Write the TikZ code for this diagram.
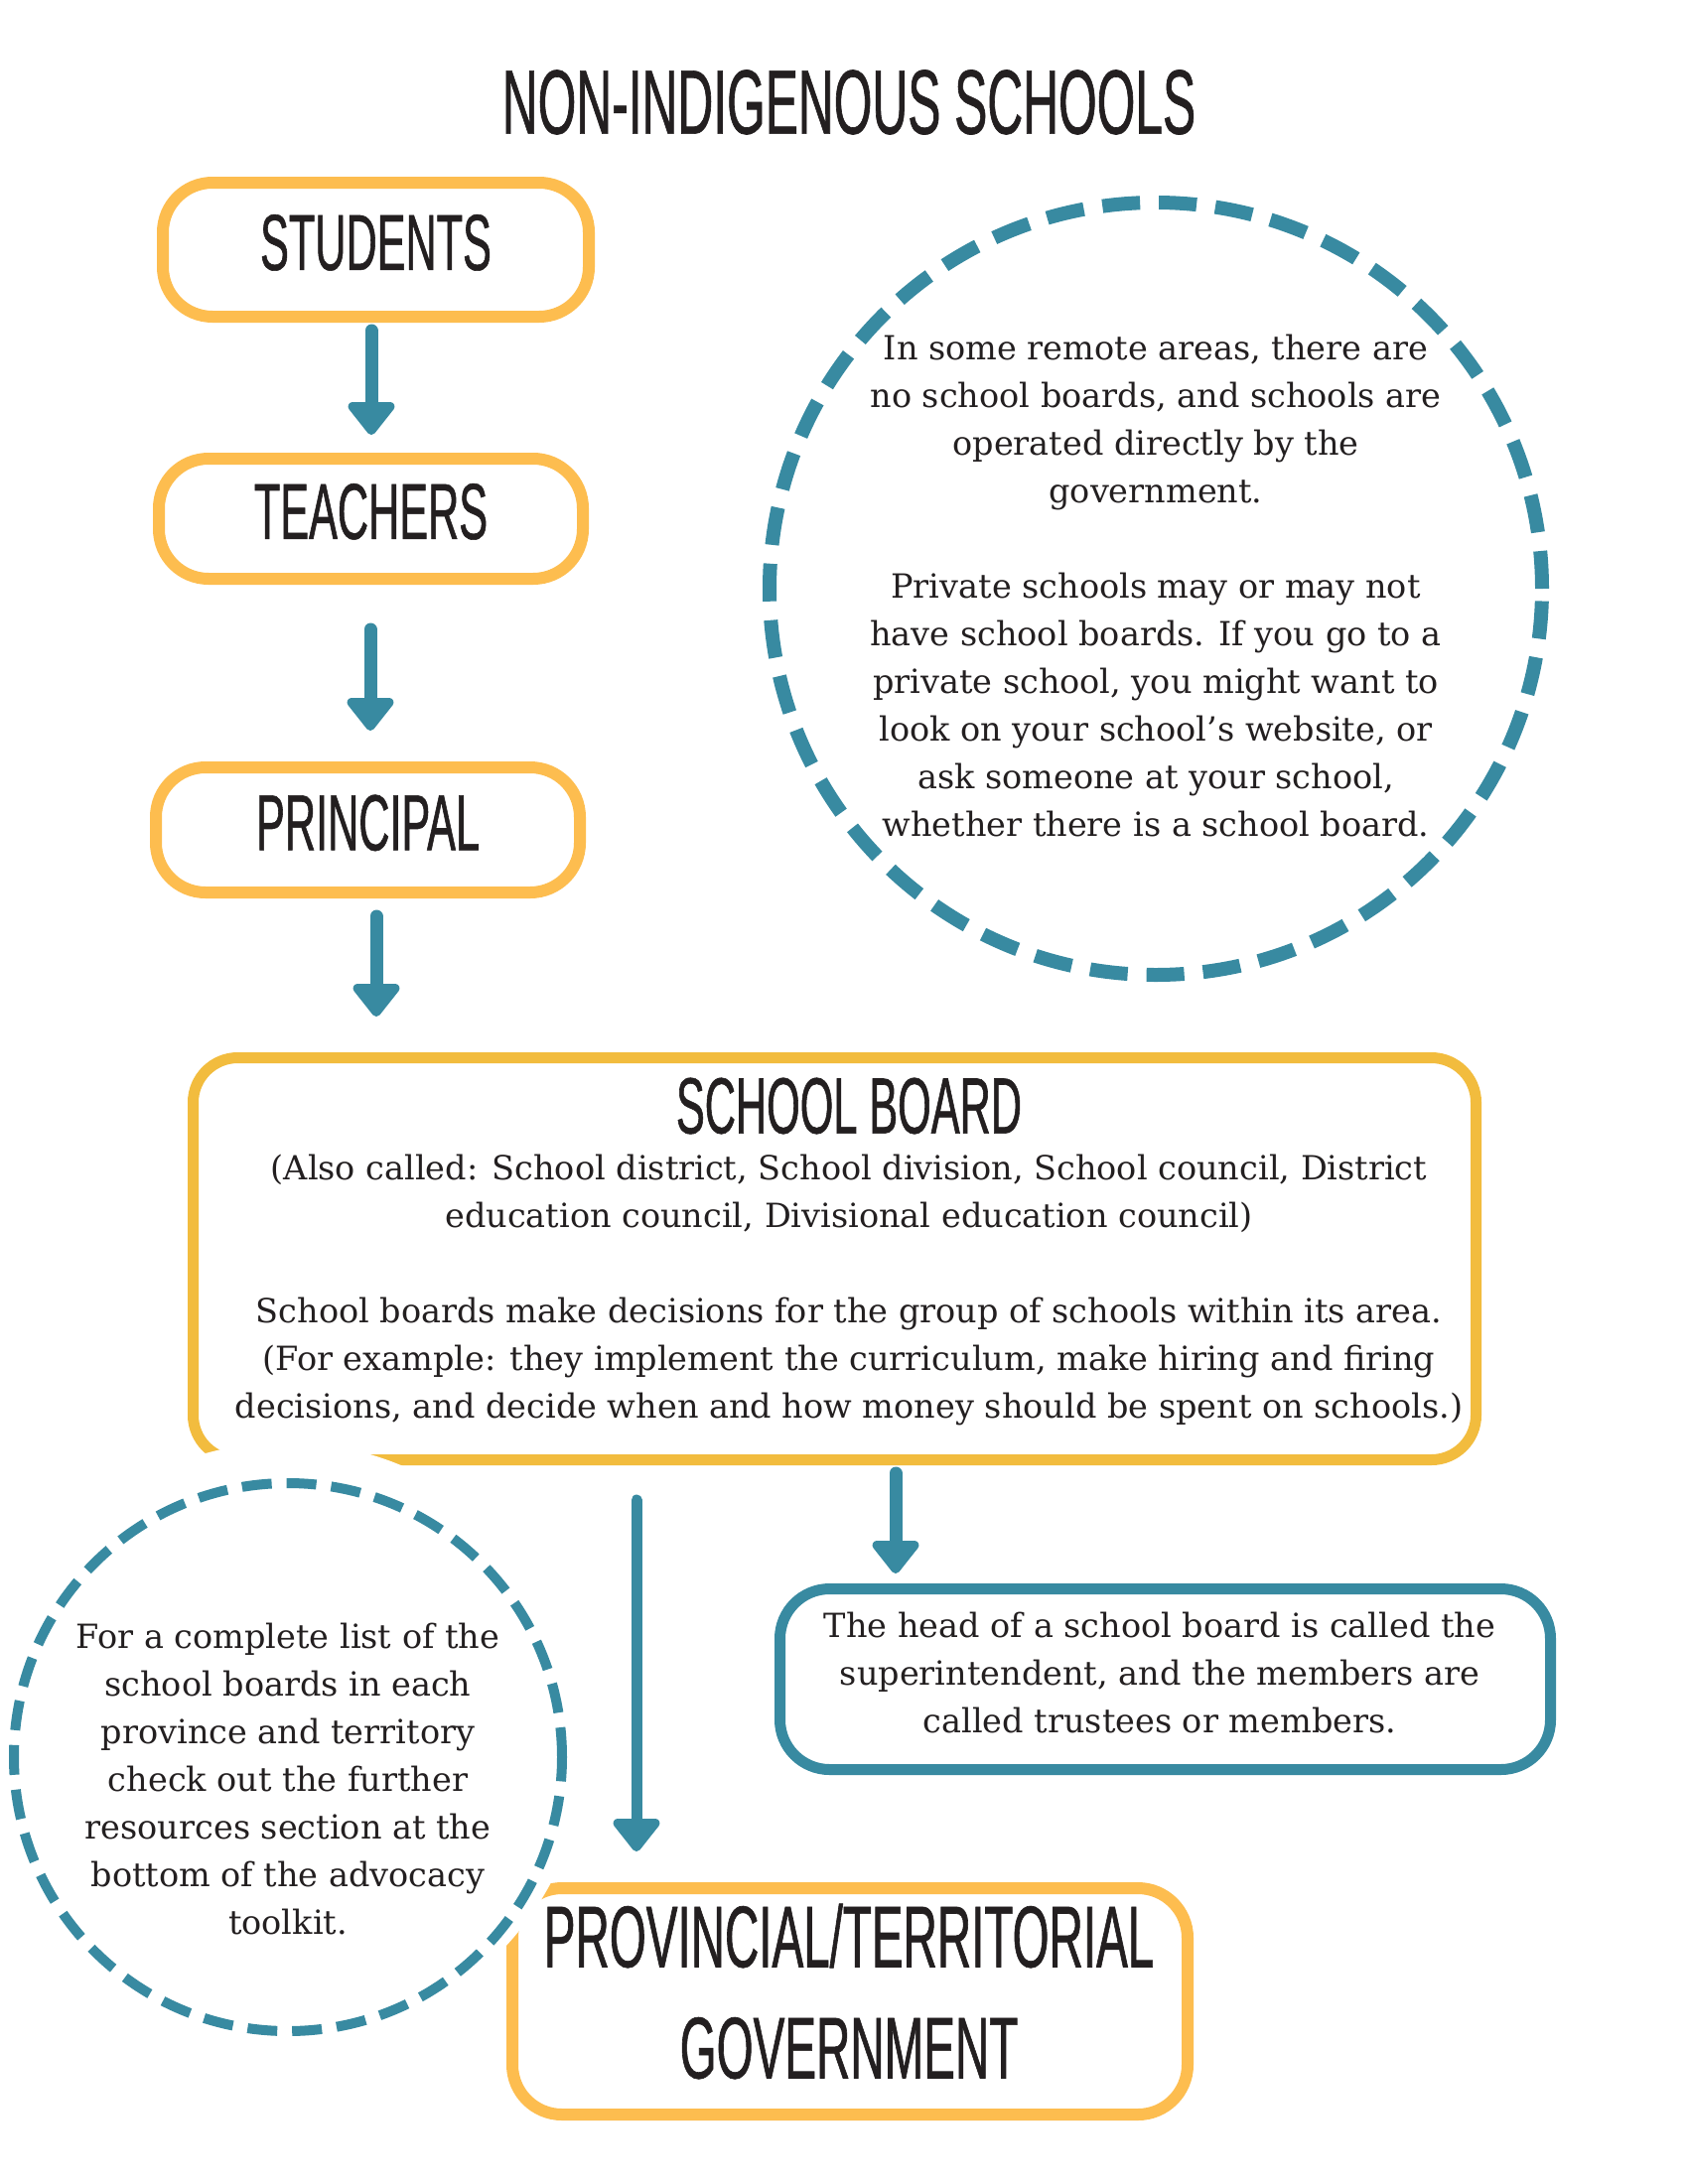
\documentclass[tikz,border=0pt]{standalone}
\usepackage{fontspec}
\setmainfont{DejaVu Serif}
\newfontfamily\headfont{Liberation Sans}[FakeStretch=0.54, FakeBold=0.7]
\newfontfamily\bodyfont{DejaVu Serif}
\usetikzlibrary{arrows.meta}
\definecolor{sun}{HTML}{FDBD4F}
\definecolor{gold}{HTML}{F2BC3E}
\definecolor{sea}{HTML}{388AA1}
\definecolor{ink}{HTML}{231F20}
\tikzset{
  stage/.style={draw=sun, line width=12pt, rounded corners=50pt, fill=white,
    inner sep=0pt, text=ink, text depth=15pt, font=\headfont\fontsize{80}{80}\selectfont},
  flow/.style={draw=sea, line width=13pt, line cap=round,
    -{Triangle[width=54pt,length=36pt,round]}},
  thinflow/.style={flow, line width=11pt},
  body/.style={text=ink, align=center, inner sep=0pt,
    font=\bodyfont\fontsize{33.5}{48}\selectfont},
  ring/.style={circle, draw=sea, fill=white, inner sep=0pt},
}
\begin{document}
\begin{tikzpicture}[x=1pt, y=-1pt]
  \fill[white] (0,0) rectangle (1700,2200);
  \useasboundingbox (0,0) rectangle (1700,2200);

  % heading
  \node[text=ink, font=\headfont\fontsize{92}{92}\selectfont] (title) at (855,103) {NON-INDIGENOUS SCHOOLS};

  % note on remote areas and private schools
  \node[ring, line width=14pt, dash pattern=on 38pt off 19pt, minimum size=778pt] (remote) at (1164,593) {};
  \node[body] (remotetext) at (1164,590) {In some remote areas, there are\\no school boards, and schools are\\operated directly by the\\government.\\[48pt]Private schools may or may not\\have school boards. If you go to a\\private school, you might want to\\look on your school’s website, or\\ask someone at your school,\\whether there is a school board.};

  % chain of stages
  \node[stage, minimum width=429pt, minimum height=135pt] (stu) at (378.5,251.5) {STUDENTS};
  \node[stage, minimum width=427pt, minimum height=121pt] (tea) at (373.5,522.5) {TEACHERS};
  \node[stage, minimum width=427pt, minimum height=126pt] (pri) at (370.5,836) {PRINCIPAL};

  \coordinate (a1) at (374,0);
  \coordinate (a2) at (373,0);
  \coordinate (a3) at (379,0);
  \draw[flow] ([yshift=-8pt]a1 |- stu.south) -- ([yshift=18pt]a1 |- tea.north);
  \draw[flow] ([yshift=-45pt]a2 |- tea.south) -- ([yshift=31pt]a2 |- pri.north);

  % school board
  \node[draw=gold, line width=11pt, rounded corners=45pt, fill=white,
        minimum width=1292pt, minimum height=405pt, inner sep=0pt] (board) at (840.5,1268) {};
  \node[text=ink, inner sep=0pt, font=\headfont\fontsize{80}{80}\selectfont] (boardtitle) at (855,1114) {SCHOOL BOARD};
  \node[body] (boardtext) at (855,1299) {(Also called: School district, School division, School council, District\\education council, Divisional education council)\\[48pt]School boards make decisions for the group of schools within its area.\\(For example: they implement the curriculum, make hiring and firing\\decisions, and decide when and how money should be spent on schools.)};

  \draw[flow] ([yshift=-18pt]a3 |- pri.south) -- ([yshift=36pt]a3 |- board.north);

  % superintendent note
  \node[draw=sea, line width=11pt, rounded corners=50pt, fill=white,
        minimum width=776pt, minimum height=182pt, inner sep=0pt] (head) at (1173.5,1691.5) {};
  \node[body] (headtext) at (1168,1685) {The head of a school board is called the\\superintendent, and the members are\\called trustees or members.};

  % government
  \node[stage, minimum width=680pt, minimum height=228pt] (gov) at (856,2016) {};
  \node[text=ink, inner sep=0pt, align=center, font=\headfont\fontsize{88}{112}\selectfont] (govtext) at (855,2006) {PROVINCIAL/TERRITORIAL\\GOVERNMENT};

  \coordinate (bdleft) at (641,0);
  \coordinate (bdright) at (902,0);
  \draw[thinflow] ([yshift=-35pt]bdleft |- board.south) -- ([yshift=31pt]bdleft |- gov.north);
  \draw[flow] ([yshift=-8pt]bdright |- board.south) -- ([yshift=10pt]bdright |- head.north);

  % note on the list of school boards
  \fill[white] (288,1755) circle (302pt);
  \node[ring, line width=10pt, dash pattern=on 30pt off 15pt, minimum size=552pt] (list) at (290,1770) {};
  \node[body] (listtext) at (290,1792) {For a complete list of the\\school boards in each\\province and territory\\check out the further\\resources section at the\\bottom of the advocacy\\toolkit.};
\end{tikzpicture}
\end{document}
